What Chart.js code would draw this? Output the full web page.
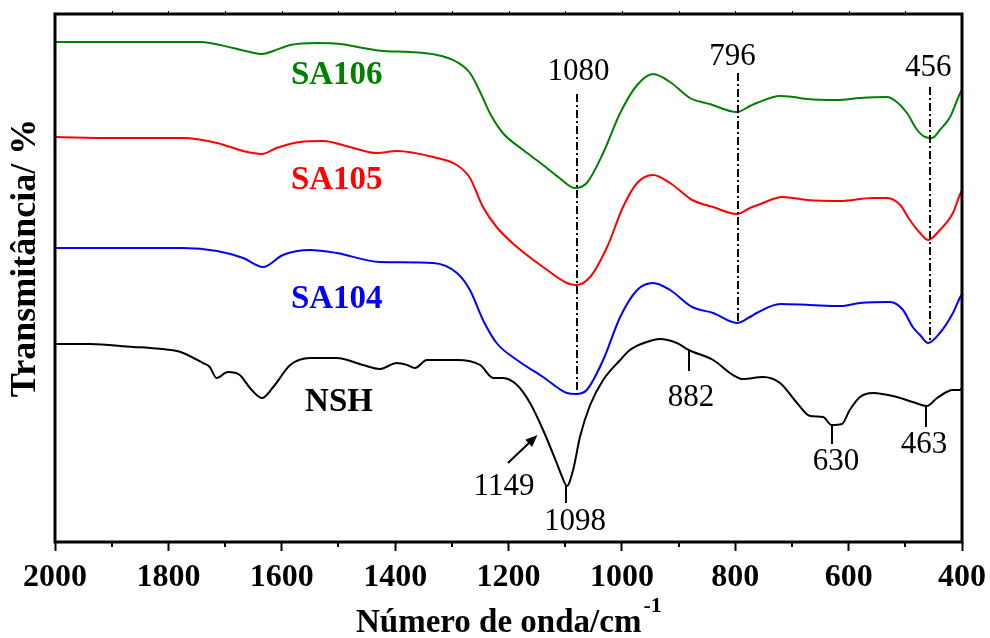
<!DOCTYPE html>
<html>
<head>
<meta charset="utf-8">
<script src="https://cdn.jsdelivr.net/npm/chart.js@4.4.1/dist/chart.umd.min.js"></script>
<style>
  html, body { margin: 0; padding: 0; background: #fff; }
  #wrap { width: 990px; height: 638px; }
</style>
</head>
<body>
<div id="wrap"><canvas id="ftir" width="990" height="638"></canvas></div>
<script>
// FTIR spectra, transmittance in arbitrary units (curves stacked with an offset)
const sa106Wn = [2000, 1900, 1832, 1797, 1744, 1686, 1656, 1635, 1615, 1585, 1538, 1497, 1457, 1421, 1374, 1326, 1291, 1268, 1250, 1233, 1210, 1174, 1139, 1110, 1083, 1062, 1033, 1003, 973, 945, 915, 880, 845, 797, 774, 762, 721, 698, 673, 621, 580, 532, 515, 497, 479, 465, 453, 439, 421, 404, 400];
const sa106T = [500, 500, 500, 500, 500, 494, 490, 488, 491, 497, 499, 498, 494, 491, 490, 487, 480, 469, 450, 429, 409, 392, 377, 364, 354, 359, 389, 429, 457, 468, 460, 444, 438, 430, 436, 439, 446, 445, 443, 442, 444, 445, 440, 429, 412, 405, 404, 412, 425, 448, 452];

const sa105Wn = [2000, 1900, 1832, 1774, 1714, 1668, 1635, 1609, 1568, 1527, 1480, 1432, 1397, 1333, 1291, 1268, 1245, 1221, 1185, 1139, 1097, 1081, 1056, 1026, 998, 973, 945, 915, 876, 839, 797, 774, 760, 716, 673, 615, 557, 532, 509, 492, 474, 460, 439, 416, 404, 400];
const sa105T = [405, 404, 404, 404, 399, 391, 388, 394, 400, 401, 395, 389, 391, 385, 377, 364, 335, 315, 295, 275, 259, 257, 265, 295, 335, 359, 367, 359, 342, 335, 328, 334, 337, 345, 342, 341, 344, 344, 337, 322, 309, 302, 312, 329, 347, 352];

const sa104Wn = [2000, 1900, 1832, 1774, 1714, 1668, 1633, 1598, 1550, 1503, 1427, 1333, 1291, 1268, 1245, 1221, 1185, 1139, 1097, 1081, 1062, 1033, 1003, 973, 945, 915, 876, 839, 797, 774, 762, 721, 668, 615, 580, 527, 504, 487, 474, 460, 439, 416, 404, 400];
const sa104T = [294, 294, 294, 294, 291, 284, 275, 287, 292, 289, 280, 279, 269, 252, 222, 199, 182, 165, 149, 148, 152, 182, 225, 252, 259, 252, 235, 229, 219, 225, 229, 238, 237, 236, 239, 240, 232, 215, 207, 199, 209, 229, 244, 248];

const nshWn = [2000, 1938, 1862, 1832, 1785, 1774, 1739, 1727, 1715, 1695, 1674, 1656, 1635, 1615, 1585, 1550, 1503, 1457, 1427, 1397, 1379, 1365, 1344, 1291, 1250, 1227, 1210, 1185, 1162, 1139, 1115, 1106, 1097, 1086, 1074, 1056, 1033, 1003, 986, 956, 933, 903, 882, 839, 804, 786, 751, 721, 691, 668, 645, 630, 612, 598, 580, 557, 515, 487, 462, 444, 416, 404, 400];
const nshT = [198, 198, 195, 194, 191, 189, 179, 175, 164, 170, 167, 154, 144, 155, 177, 184, 184, 177, 173, 179, 177, 174, 182, 182, 177, 164, 164, 157, 139, 112, 79, 66, 56, 72, 105, 137, 162, 182, 192, 200, 203, 199, 192, 182, 167, 163, 165, 159, 139, 126, 125, 117, 118, 132, 145, 149, 145, 140, 136, 144, 152, 152, 154];

const seriesNames = ['SA106', 'SA105', 'SA104', 'NSH'];
const seriesColors = ['#008000', '#ff0000', '#0000ff', '#000000'];
const xTicks = [2000, 1800, 1600, 1400, 1200, 1000, 800, 600, 400];

// band positions marked on the plot
const markerWn = [1080, 796, 456];
const nshPeakWn = [1098, 882, 630, 463];
const shoulderWn = 1149;

const toPoints = (wn, t) => wn.map((v, i) => ({ x: v, y: t[i] }));

const serif = 'Liberation Serif, Times New Roman, serif';

// layout of annotations (y in the same a.u. as the curves)
const markerLayout = [
  { top: 448, bottom: 148, labelY: 470, dx: 2 },
  { top: 469, bottom: 219, labelY: 485, dx: -5 },
  { top: 455, bottom: 199, labelY: 474, dx: -2 }
];
const nshLayout = [
  { top: 57, bottom: 39, labelY: 20, dx: 9 },
  { top: 192, bottom: 171, labelY: 144, dx: 2 },
  { top: 117, bottom: 98, labelY: 80, dx: 4 },
  { top: 135, bottom: 115, labelY: 97, dx: -2 }
];
const nameLayout = [
  { wn: 1503, y: 467 },
  { wn: 1503, y: 362 },
  { wn: 1503, y: 243 },
  { wn: 1499, y: 140 }
];

const overlay = {
  id: 'overlay',
  afterDatasetsDraw(chart) {
    const { ctx, scales: { x, y } } = chart;
    ctx.save();
    ctx.fillStyle = '#000';
    ctx.strokeStyle = '#000';

    // dash-dot lines
    ctx.lineWidth = 2;
    ctx.setLineDash([8, 3, 2, 3]);
    markerWn.forEach((wn, i) => {
      const m = markerLayout[i];
      const px = Math.round(x.getPixelForValue(wn));
      ctx.beginPath();
      ctx.moveTo(px, y.getPixelForValue(m.top));
      ctx.lineTo(px, y.getPixelForValue(m.bottom));
      ctx.stroke();
    });
    ctx.setLineDash([]);

    ctx.font = '31px ' + serif;
    ctx.textAlign = 'center';
    ctx.textBaseline = 'middle';
    markerWn.forEach((wn, i) => {
      const m = markerLayout[i];
      ctx.fillText(String(wn), x.getPixelForValue(wn) + m.dx, y.getPixelForValue(m.labelY));
    });

    // NSH peak ticks
    nshPeakWn.forEach((wn, i) => {
      const m = nshLayout[i];
      const px = Math.round(x.getPixelForValue(wn));
      ctx.beginPath();
      ctx.moveTo(px, y.getPixelForValue(m.top));
      ctx.lineTo(px, y.getPixelForValue(m.bottom));
      ctx.stroke();
      ctx.fillText(String(wn), px + m.dx, y.getPixelForValue(m.labelY));
    });

    // shoulder arrow
    const tipX = x.getPixelForValue(shoulderWn), tipY = y.getPixelForValue(107);
    const tailX = x.getPixelForValue(1201), tailY = y.getPixelForValue(79);
    const ang = Math.atan2(tipY - tailY, tipX - tailX);
    ctx.beginPath();
    ctx.moveTo(tailX, tailY);
    ctx.lineTo(tipX - 8 * Math.cos(ang), tipY - 8 * Math.sin(ang));
    ctx.stroke();
    ctx.beginPath();
    ctx.moveTo(tipX, tipY);
    ctx.lineTo(tipX - 12 * Math.cos(ang) + 5 * Math.sin(ang), tipY - 12 * Math.sin(ang) - 5 * Math.cos(ang));
    ctx.lineTo(tipX - 12 * Math.cos(ang) - 5 * Math.sin(ang), tipY - 12 * Math.sin(ang) + 5 * Math.cos(ang));
    ctx.closePath();
    ctx.fill();
    ctx.fillText(String(shoulderWn), x.getPixelForValue(1208), y.getPixelForValue(55));

    // series names
    ctx.font = 'bold 33px ' + serif;
    seriesNames.forEach((name, i) => {
      ctx.fillStyle = seriesColors[i];
      ctx.fillText(name, x.getPixelForValue(nameLayout[i].wn), y.getPixelForValue(nameLayout[i].y));
    });
    ctx.restore();
  },
  afterDraw(chart) {
    const { ctx, chartArea: a, scales: { x } } = chart;
    ctx.save();
    ctx.strokeStyle = '#000';
    ctx.fillStyle = '#000';

    // minor ticks below, small marks above
    ctx.lineWidth = 2;
    for (let wn = 1900; wn > 400; wn -= 200) {
      const px = Math.round(x.getPixelForValue(wn));
      ctx.beginPath();
      ctx.moveTo(px, a.bottom);
      ctx.lineTo(px, a.bottom + 5);
      ctx.stroke();
    }
    ctx.lineWidth = 1;
    for (let wn = 1900; wn > 400; wn -= 100) {
      const px = Math.round(x.getPixelForValue(wn)) + 0.5;
      ctx.beginPath();
      ctx.moveTo(px, a.top);
      ctx.lineTo(px, a.top - 3);
      ctx.stroke();
    }

    // frame
    ctx.lineWidth = 3;
    ctx.strokeRect(a.left, a.top, a.right - a.left, a.bottom - a.top);

    // axis titles
    ctx.font = 'bold 33px ' + serif;
    ctx.textAlign = 'left';
    ctx.textBaseline = 'alphabetic';
    const title = 'Número de onda/cm';
    ctx.fillText(title, 356, 632);
    const w = ctx.measureText(title).width;
    ctx.font = 'bold 22px ' + serif;
    ctx.fillText('-1', 356 + w + 2, 612);

    ctx.font = 'bold 36px ' + serif;
    ctx.textAlign = 'center';
    ctx.textBaseline = 'middle';
    ctx.translate(26, 258);
    ctx.rotate(-Math.PI / 2);
    ctx.fillText('Transmitância/ %', 0, 0);
    ctx.restore();
  }
};

const datasets = [
  toPoints(sa106Wn, sa106T),
  toPoints(sa105Wn, sa105T),
  toPoints(sa104Wn, sa104T),
  toPoints(nshWn, nshT)
].map((pts, i) => ({
  label: seriesNames[i],
  data: pts,
  borderColor: seriesColors[i],
  borderWidth: 2,
  pointRadius: 0,
  cubicInterpolationMode: 'monotone',
  fill: false
}));

new Chart(document.getElementById('ftir'), {
  type: 'line',
  data: { datasets },
  options: {
    responsive: false,
    animation: false,
    layout: { padding: { top: 14, right: 28, left: 0, bottom: 0 } },
    plugins: { legend: { display: false }, tooltip: { enabled: false } },
    scales: {
      x: {
        type: 'linear',
        reverse: true,
        min: 400,
        max: 2000,
        afterBuildTicks: s => { s.ticks = xTicks.map(v => ({ value: v })); },
        afterFit: s => { s.height = 96; s.paddingLeft = 0; s.paddingRight = 0; },
        ticks: {
          color: '#000',
          padding: 8,
          maxRotation: 0,
          font: { family: serif, size: 32, weight: 'bold' },
          callback: v => String(v)
        },
        grid: { drawOnChartArea: false, drawTicks: true, tickLength: 9, tickWidth: 2, tickColor: '#000' },
        border: { display: false }
      },
      y: {
        min: 0,
        max: 528,
        afterFit: s => { s.width = 55; },
        ticks: { display: false },
        grid: { display: false },
        border: { display: false }
      }
    }
  },
  plugins: [overlay]
});
</script>
</body>
</html>
